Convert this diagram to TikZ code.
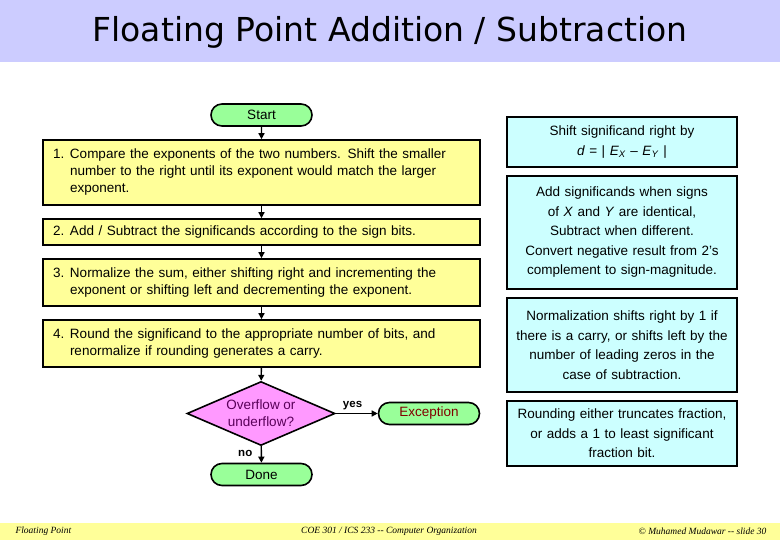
\documentclass[tikz,border=0pt]{standalone}
\usepackage{fontspec}
\setmainfont{Liberation Sans}
\newfontfamily\titlefont{DejaVu Sans}
\newfontfamily\footfont{Liberation Serif}
\usetikzlibrary{shapes.geometric,shapes.misc,arrows.meta}
\definecolor{titleback}{HTML}{CCCCFF}
\definecolor{termfill}{HTML}{99FF99}
\definecolor{stepfill}{HTML}{FFFF99}
\definecolor{notefill}{HTML}{CCFFFF}
\definecolor{decfill}{HTML}{FF99FF}
\definecolor{footback}{HTML}{FFFF99}
\newcommand{\stepitem}[2]{\makebox[17pt][l]{#1}\parbox[t]{400pt}{\raggedright #2}}
\tikzset{
  term/.style={draw, line width=1.6pt, fill=termfill, rounded rectangle, minimum width=101pt, minimum height=22pt, inner sep=0pt, font=\fontsize{13.5}{16}\selectfont},
  stepbox/.style={draw, line width=1.6pt, fill=stepfill, minimum width=437pt, text width=417pt, align=left, inner sep=0pt, font=\fontsize{13.5}{17}\selectfont},
  note/.style={draw, line width=1.6pt, fill=notefill, minimum width=230pt, text width=226pt, align=center, inner sep=0pt, font=\fontsize{13.5}{19.5}\selectfont},
  flow/.style={-{Triangle[length=6pt,width=6pt]}, line width=1.4pt}
}
\begin{document}
\begin{tikzpicture}[x=1pt, y=-1pt]
  \useasboundingbox (0,0) rectangle (780,540);
  % title band
  \fill[titleback] (0,0) rectangle (780,62);
  \node[font=\titlefont\fontsize{33}{36}\selectfont] (title) at (390,32) {Floating Point Addition / Subtraction};
  % flow chart
  \node[term] (start) at (261.5,115) {Start};
  \node[stepbox, minimum height=65pt] (s1) at (261.5,172.5) {\stepitem{1.}{Compare the exponents of the two numbers. Shift the smaller\\number to the right until its exponent would match the larger\\exponent.}};
  \node[stepbox, minimum height=26pt] (s2) at (261.5,232) {\stepitem{2.}{Add / Subtract the significands according to the sign bits.}};
  \node[stepbox, minimum height=47pt] (s3) at (261.5,282.5) {\stepitem{3.}{Normalize the sum, either shifting right and incrementing the\\exponent or shifting left and decrementing the exponent.}};
  \node[stepbox, minimum height=47pt] (s4) at (261.5,343.5) {\stepitem{4.}{Round the significand to the appropriate number of bits, and\\renormalize if rounding generates a carry.}};
  \node[draw, line width=1.6pt, fill=decfill, diamond, aspect=2.3, minimum width=148pt, minimum height=64pt, inner sep=0pt, align=center, text=violet!70!black, font=\fontsize{13.5}{17}\selectfont] (ovf) at (261,413.5) {Overflow or\\underflow?};
  \node[term, text=red!50!black] (exc) at (429,413.5) {Exception};
  \node[term] (done) at (261.5,474.5) {Done};
  \draw[flow] (start) -- (s1);
  \draw[flow] (s1) -- (s2);
  \draw[flow] (s2) -- (s3);
  \draw[flow] (s3) -- (s4);
  \draw[flow] (s4) -- (ovf);
  \draw[flow] (ovf) -- node[above, pos=0.4, font=\bfseries\fontsize{11.5}{13}\selectfont] {yes} (exc);
  \draw[flow] (ovf) -- node[left, pos=0.45, xshift=-5pt, font=\bfseries\fontsize{11.5}{13}\selectfont] {no} (done);
  % notes
  \node[note, minimum height=50pt] (n1) at (622,142) {Shift significand right by\\\textit{d} = | \textit{E}\textsubscript{\textit{X}} -- \textit{E}\textsubscript{\textit{Y}} |};
  \node[note, minimum height=113pt] (n2) at (622,232.5) {Add significands when signs\\of \textit{X} and \textit{Y} are identical,\\Subtract when different.\\Convert negative result from 2's\\complement to sign-magnitude.};
  \node[note, minimum height=94pt] (n3) at (622,345) {Normalization shifts right by 1 if\\there is a carry, or shifts left by the\\number of leading zeros in the\\case of subtraction.};
  \node[note, minimum height=65pt] (n4) at (622,433.5) {Rounding either truncates fraction,\\or adds a 1 to least significant\\fraction bit.};
  % footer
  \fill[footback] (0,523) rectangle (780,540);
  \node[anchor=west, font=\footfont\itshape\fontsize{9.5}{10}\selectfont] (f1) at (12,531.5) {Floating Point};
  \node[font=\footfont\itshape\fontsize{9.5}{10}\selectfont] (f2) at (389,531.5) {COE 301 / ICS 233 -- Computer Organization};
  \node[anchor=east, font=\footfont\itshape\fontsize{9.5}{10}\selectfont] (f3) at (770,531.5) {\textcopyright{} Muhamed Mudawar -- slide 30};
\end{tikzpicture}
\end{document}
